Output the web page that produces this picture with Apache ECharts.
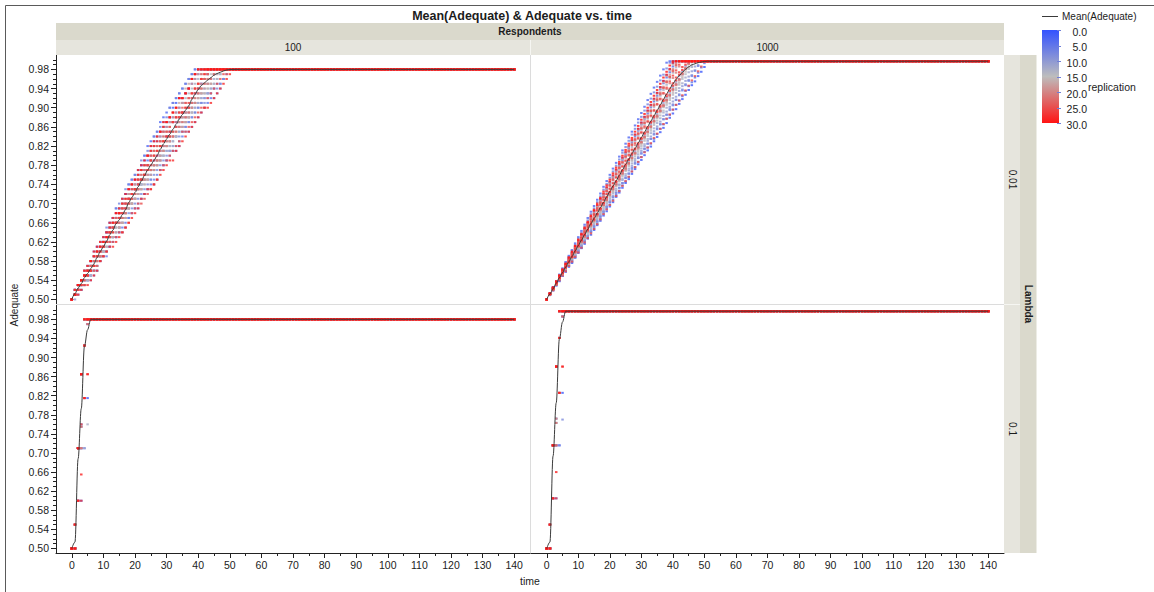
<!DOCTYPE html>
<html>
<head>
<meta charset="utf-8">
<title>Mean(Adequate) & Adequate vs. time</title>
<script src="https://cdn.jsdelivr.net/npm/echarts@6/dist/echarts.min.js"></script>
<style>
  html, body { margin: 0; padding: 0; background: #ffffff; }
  #chart { width: 1154px; height: 592px; }
</style>
</head>
<body>
<div id="chart"></div>
<script>
// ---- data -------------------------------------------------------------
const respondents = ['100', '1000'];
const lambdas = ['0.01', '0.1'];
const lastTime = 140;
const yTickLabels = [0.50, 0.54, 0.58, 0.62, 0.66, 0.70, 0.74, 0.78, 0.82, 0.86, 0.90, 0.94, 0.98];
const xTickLabels = [0, 10, 20, 30, 40, 50, 60, 70, 80, 90, 100, 110, 120, 130, 140];
const replicationTicks = [0, 5, 10, 15, 20, 25, 30];

const startLevel = 0.50;
const plateau100 = 0.98;   // level every replication settles at, 100 respondents
const plateau1000 = 0.997; // same, 1000 respondents

// Lambda 0.01, 100 respondents: one string per replication (1..30),
// each digit is the rise in hundredths from one time step to the next.
const slowSteps100 = [
  '2011211111 1212011211 1121101112 1201101121 1111111111',
  '2102111211 2112112111 1211121111 1211011211 1111111111',
  '2112112111 1212021211 1122111211 1111111111 1111111111',
  '1121211120 2102111211 1211121111 1111121111 1111111111',
  '1011101121 1120111111 0211101211 1101210111 1111011211',
  '1110111021 0211101211 1111201111 2011211111 1110110121',
  '1212021211 2112112111 1211121111 2111111111 1111111111',
  '1101111121 0111211111 1111111111 1210111111 1011101121',
  '1201101121 2011211111 1211011211 1121101112 0111121111',
  '0112110211 1112011211 2110121011 1021111111 1011111121',
  '2011211111 1211011211 1121101112 1112011211 1111111111',
  '1110121111 2101121111 1111201111 0121111111 1101211111',
  '1212011211 1211011211 1211121111 2011211111 1111111111',
  '1201101121 1211011211 1121101112 0112110211 1011011111',
  '2011211111 1121101112 1112011211 1111111111 1201111111',
  '1110121111 1112011211 2011211111 1201101121 1011201111',
  '2102111211 1121211120 2112112111 1111121111 1111111111',
  '1211011211 1011111211 1120121111 1111011211 1110211111',
  '1121211120 1211121111 1212011211 1111121111 1111111111',
  '1112011211 1211011211 1201101121 1121101112 1101211111',
  '1121101112 1211121111 2011211111 1201101121 1111111111',
  '1121101112 1112011211 1211011211 1011111211 1110111111',
  '1211121111 2011211111 2102111211 1110121111 2111111111',
  '1212011211 1121101112 1121211120 1111111111 1011111111',
  '2101110111 1201101121 1011111211 1111201111 1021111101',
  '1211011211 1121211120 1112011211 0112110211 2111111111',
  '1112011211 2102111211 2011211111 1211011211 1111111111',
  '1011011121 1101111111 1211011111 1021111111 1101111111',
  '2112112111 1211121111 2102111211 1112011211 1111111111',
  '1211121111 1212021211 1121211120 1112011211 1111111111'
];

// Lambda 0.01, 1000 respondents: one string per replication (1..30),
// each digit is the rise above a 6-thousandth floor for that time step.
const slowStepFloor1000 = 6;
const slowSteps1000 = [
  '3443534254 4352443534 3534425443 4425343453 3543442534',
  '6766757666 7676657676 6767567767 6766767667 7667676767',
  '7768777687 7787677867 7677876777 7877677877 7677867767',
  '6675675667 7656766576 6766576767 6576677656 6766576676',
  '4353436245 3546234543 4435236354 5324453625 4335424453',
  '4454353545 3545443544 5344536443 4543545344 5445345435',
  '7677686767 6777676867 7678677676 7767676767 7677676776',
  '4534435463 5443546344 4354434565 3445534463 4545344536',
  '5465456455 4565465546 5456546455 4565546546 5456545564',
  '4545364435 5436445354 4564354436 4535446345 4645354536',
  '5565465465 5465565545 6545565456 5565465546 5645565465',
  '5446354536 4547345364 5436455346 3564546435 5446554645',
  '6567565676 5665756566 6575665657 5666756576 5657565676',
  '4565354645 5456345465 4645545346 5456354645 4564536455',
  '5564463556 4655364556 5465546356 6545364655 5465465546',
  '4565464545 5465354654 4656454546 5456465345 4565465546',
  '6676566767 7666757666 6766676756 6767667766 6767667676',
  '5465364556 4657354645 5546365456 4655465356 5465546556',
  '6576665766 6676576566 7656676567 6566756676 6676566576',
  '5465564556 5546465355 6456545465 5465564546 5465564556',
  '6557465565 5765485656 6547565576 5665756465 5756565656',
  '5546455646 4565546455 5456455465 5546455646 4565465546',
  '6576574666 5767566576 6675667565 6756676657 6576657665',
  '6567565676 5676566576 6576657566 5676657656 6576657566',
  '4354435343 4534344543 3445435354 4435344534 4354453445',
  '5657465675 6565756465 5765665756 6565756576 5657565675',
  '5655465565 6556545656 5565656455 5656556565 6556565656',
  '5565465556 5655456565 5456565546 5565556455 5645565465',
  '7667576676 6767667576 7667676567 6767667767 7676676767',
  '7676767667 6767676776 7667676767 6767677676 7676767676'
];

// Lambda 0.1, 100 respondents: values from time 0 until the plateau, per replication.
const fastValues100 = [
  [0.50, 0.50, 0.60, 0.60, 0.71, 0.815],
  [0.50, 0.50, 0.60, 0.71, 0.815, 0.97],
  [0.50, 0.50, 0.71, 0.865],
  [0.50, 0.50, 0.71, 0.71, 0.925, 0.97],
  [0.50, 0.50, 0.71, 0.76, 0.925],
  [0.50, 0.50, 0.71, 0.865],
  [0.50, 0.50, 0.71, 0.755],
  [0.50, 0.55, 0.71, 0.865, 0.925],
  [0.50, 0.50, 0.71, 0.865],
  [0.50, 0.55, 0.71, 0.865],
  [0.50, 0.50, 0.71, 0.865],
  [0.50, 0.50, 0.71, 0.76, 0.925],
  [0.50, 0.50, 0.60, 0.71, 0.71, 0.76],
  [0.50, 0.50, 0.71, 0.755],
  [0.50, 0.50, 0.71, 0.865],
  [0.50, 0.55, 0.71, 0.865],
  [0.50, 0.55, 0.71, 0.865, 0.925],
  [0.50, 0.50, 0.71, 0.865],
  [0.50, 0.50, 0.71, 0.71, 0.925, 0.97],
  [0.50, 0.55, 0.71, 0.865],
  [0.50, 0.50, 0.71, 0.865],
  [0.50, 0.50, 0.60, 0.71, 0.815, 0.97],
  [0.50, 0.50, 0.71, 0.755],
  [0.50, 0.55, 0.71, 0.865, 0.925],
  [0.50, 0.50, 0.71, 0.865],
  [0.50, 0.50, 0.71, 0.76, 0.925],
  [0.50, 0.50, 0.60, 0.60, 0.815, 0.865],
  [0.50, 0.55, 0.71, 0.865, 0.925],
  [0.50, 0.55, 0.60, 0.655, 0.815, 0.865],
  [0.50, 0.50, 0.71, 0.865]
];

// Lambda 0.1, 1000 respondents: values from time 0 until the plateau, per replication.
const fastValues1000 = [
  [0.50, 0.50, 0.605, 0.605, 0.716, 0.826],
  [0.50, 0.50, 0.716, 0.716, 0.941, 0.986],
  [0.50, 0.50, 0.716, 0.881],
  [0.50, 0.50, 0.605, 0.716, 0.826, 0.986],
  [0.50, 0.50, 0.716, 0.881],
  [0.50, 0.50, 0.716, 0.772, 0.941],
  [0.50, 0.55, 0.716, 0.881],
  [0.50, 0.50, 0.605, 0.716, 0.716, 0.77],
  [0.50, 0.50, 0.716, 0.881],
  [0.50, 0.50, 0.716, 0.763],
  [0.50, 0.55, 0.716, 0.881, 0.941],
  [0.50, 0.50, 0.716, 0.881],
  [0.50, 0.50, 0.716, 0.772, 0.941],
  [0.50, 0.55, 0.716, 0.881],
  [0.50, 0.50, 0.716, 0.763],
  [0.50, 0.50, 0.716, 0.881],
  [0.50, 0.55, 0.716, 0.881, 0.941],
  [0.50, 0.50, 0.716, 0.716, 0.941, 0.986],
  [0.50, 0.50, 0.716, 0.881],
  [0.50, 0.55, 0.716, 0.881],
  [0.50, 0.50, 0.716, 0.772, 0.941],
  [0.50, 0.50, 0.716, 0.763],
  [0.50, 0.50, 0.716, 0.881],
  [0.50, 0.50, 0.605, 0.716, 0.826, 0.986],
  [0.50, 0.55, 0.716, 0.881, 0.941],
  [0.50, 0.50, 0.605, 0.605, 0.826, 0.881],
  [0.50, 0.50, 0.716, 0.881],
  [0.50, 0.55, 0.716, 0.881, 0.941],
  [0.50, 0.55, 0.605, 0.66, 0.826, 0.881],
  [0.50, 0.50, 0.716, 0.881]
];

// ---- series building --------------------------------------------------
const round4 = v => Math.round(v * 10000) / 10000;

// one value per time step 0..lastTime for each replication, from step strings
function fromSteps(stepStrings, unit, floor, plateau) {
  return stepStrings.map(s => {
    const steps = s.replace(/\s+/g, '');
    const values = [startLevel];
    let v = startLevel;
    for (let t = 1; t <= lastTime; t++) {
      v = t <= steps.length ? Math.min(plateau, v + (floor + Number(steps[t - 1])) * unit) : plateau;
      values.push(round4(v));
    }
    return values;
  });
}

// one value per time step 0..lastTime for each replication, from listed values
function fromValues(rows, plateau) {
  return rows.map(row => {
    const values = [];
    for (let t = 0; t <= lastTime; t++) values.push(t < row.length ? row[t] : plateau);
    return values;
  });
}

const panels = [
  fromSteps(slowSteps100, 0.01, 0, plateau100),
  fromSteps(slowSteps1000, 0.001, slowStepFloor1000, plateau1000),
  fromValues(fastValues100, plateau100),
  fromValues(fastValues1000, plateau1000)
];

function scatterPoints(reps) {
  const pts = [];
  reps.forEach((values, i) => values.forEach((v, t) => pts.push([t, v, i + 1])));
  return pts;
}

function meanLine(reps) {
  return reps[0].map((_, t) => [t, round4(reps.reduce((s, r) => s + r[t], 0) / reps.length)]);
}

// ---- look ---------------------------------------------------------------
const fontFamily = "'Liberation Sans', Arial, Helvetica, sans-serif";
const ink = '#1c1c1c';
const axisInk = '#222222';
const bandDark = '#dad9cc';
const bandLight = '#e6e5dd';
const panelRule = '#dcdcdc';
const replicationColors = ['#3352ff', '#bdbdbd', '#ff1414'];

const grids = [
  { left: 56, top: 55, width: 474, height: 249 },
  { left: 531, top: 55, width: 473, height: 249 },
  { left: 56, top: 305, width: 474, height: 248 },
  { left: 531, top: 305, width: 473, height: 248 }
];
const yMin = 0.4905, yMax = 1.01;
const xMin = -5, xMax = 145;

const yMinorTicks = [];
for (let k = 49; k <= 100; k++) yMinorTicks.push(k / 100);
const xMinorTicks = [];
for (let v = 5; v <= 135; v += 10) xMinorTicks.push(v);

const xAxes = [], yAxes = [];
grids.forEach((g, i) => {
  const bottomRow = i >= 2, leftCol = i % 2 === 0;
  xAxes.push({
    gridIndex: i, type: 'value', min: xMin, max: xMax, position: 'bottom', show: bottomRow,
    axisLine: { show: true, onZero: false, lineStyle: { color: axisInk, width: 1 } },
    axisTick: { show: true, customValues: xTickLabels, length: 5, lineStyle: { color: axisInk } },
    axisLabel: { show: true, customValues: xTickLabels, margin: 6, color: ink, fontSize: 10.5, fontFamily,
      formatter: v => String(v) },
    splitLine: { show: false }
  });
  xAxes.push({
    gridIndex: i, type: 'value', min: xMin, max: xMax, position: 'bottom', show: bottomRow,
    axisLine: { show: false, onZero: false },
    axisTick: { show: true, customValues: xMinorTicks, length: 3, lineStyle: { color: axisInk } },
    axisLabel: { show: false },
    splitLine: { show: false }
  });
  yAxes.push({
    gridIndex: i, type: 'value', min: yMin, max: yMax, position: 'left', show: leftCol,
    axisLine: { show: true, onZero: false, lineStyle: { color: axisInk, width: 1 } },
    axisTick: { show: true, customValues: yTickLabels, length: 5, lineStyle: { color: axisInk } },
    axisLabel: { show: true, customValues: yTickLabels, margin: 7, color: ink, fontSize: 10.5, fontFamily,
      formatter: v => v.toFixed(2) },
    splitLine: { show: false }
  });
  yAxes.push({
    gridIndex: i, type: 'value', min: yMin, max: yMax, position: 'left', show: leftCol,
    axisLine: { show: false, onZero: false },
    axisTick: { show: true, customValues: yMinorTicks, length: 3, lineStyle: { color: axisInk } },
    axisLabel: { show: false },
    splitLine: { show: false }
  });
});

const scatterSeries = panels.map((reps, i) => ({
  type: 'scatter', xAxisIndex: 2 * i, yAxisIndex: 2 * i,
  data: scatterPoints(reps),
  symbol: 'rect', symbolSize: [2.5, 2],
  progressive: 0, silent: true, z: 2,
  emphasis: { disabled: true }
}));

const meanSeries = panels.map((reps, i) => ({
  type: 'line', name: 'Mean(Adequate)', xAxisIndex: 2 * i, yAxisIndex: 2 * i,
  data: meanLine(reps),
  showSymbol: false, symbol: 'none', smooth: 0.35, smoothMonotone: 'x',
  lineStyle: { color: '#3a3a3a', width: 1 },
  silent: true, z: 3
}));

// ---- decorations ----------------------------------------------------------
function label(text, x, y, o = {}) {
  const align = o.align || 'center';
  return {
    type: 'text', x, y, rotation: o.rotation || 0, silent: true, z: 20,
    style: {
      text, fill: ink,
      font: `${o.weight || 'normal'} ${o.size || 10}px ${fontFamily}`,
      align, verticalAlign: 'middle', textAlign: align, textVerticalAlign: 'middle'
    }
  };
}
function box(x, y, w, h, fill) {
  return { type: 'rect', silent: true, z: 1, shape: { x, y, width: w, height: h }, style: { fill } };
}
function rule(x1, y1, x2, y2, stroke, z) {
  return { type: 'line', silent: true, z: z || 21, shape: { x1, y1, x2, y2 }, style: { stroke, lineWidth: 1 } };
}

const barTop = 30, barHeight = 93, barLeft = 1042, barWidth = 17;
const colourBarTicks = [];
replicationTicks.forEach(v => {
  const y = barTop + (v / 30) * barHeight;
  colourBarTicks.push(rule(barLeft + barWidth - 2, Math.round(y) + 0.5, barLeft + barWidth + 2, Math.round(y) + 0.5, '#6f7fd8'));
  colourBarTicks.push(label(v.toFixed(1), 1087, y + 1.5, { align: 'right', size: 10.5 }));
});

const graphic = [
  { type: 'rect', silent: true, z: 30, shape: { x: 5.5, y: 5.5, width: 1400, height: 900 },
    style: { fill: 'none', stroke: '#5a5a5a', lineWidth: 1 } },
  label('Mean(Adequate) & Adequate vs. time', 522, 16, { weight: 'bold', size: 12.5 }),
  // panel dividers
  rule(56, 304.5, 1004, 304.5, panelRule, 0),
  rule(530.5, 55, 530.5, 553, panelRule, 0),
  // column header
  box(56, 23, 948, 17, bandDark),
  box(56, 40, 948, 15, bandLight),
  rule(530.5, 40, 530.5, 55, '#f6f6f2'),
  label('Respondents', 530, 31.5, { weight: 'bold', size: 10 }),
  label(respondents[0], 293, 47.5, { size: 10 }),
  label(respondents[1], 767.5, 47.5, { size: 10 }),
  // row strip
  box(1004, 55, 16, 498, bandLight),
  box(1020, 55, 16.5, 498, bandDark),
  rule(1004, 304.5, 1020, 304.5, '#f6f6f2'),
  label(lambdas[0], 1012, 179.5, { rotation: -Math.PI / 2, size: 10 }),
  label(lambdas[1], 1012, 429, { rotation: -Math.PI / 2, size: 10 }),
  label('Lambda', 1028.5, 304, { rotation: -Math.PI / 2, weight: 'bold', size: 10 }),
  // axis titles
  label('Adequate', 14, 305, { rotation: Math.PI / 2, size: 10 }),
  label('time', 530, 581, { size: 10.5 }),
  // legend
  rule(1042, 16.5, 1058, 16.5, '#3a3a3a'),
  label('Mean(Adequate)', 1062, 16.5, { align: 'left', size: 10 }),
  { type: 'rect', silent: true, z: 20, shape: { x: barLeft, y: barTop, width: barWidth, height: barHeight },
    style: { fill: { type: 'linear', x: 0, y: 0, x2: 0, y2: 1, colorStops: [
      { offset: 0, color: replicationColors[0] },
      { offset: 0.5, color: replicationColors[1] },
      { offset: 1, color: replicationColors[2] } ] } } },
  ...colourBarTicks,
  label('replication', 1088, 86.5, { align: 'left', size: 10.5 })
];

const chart = echarts.init(document.getElementById('chart'), null, { renderer: 'svg', width: 1154, height: 592 });
chart.setOption({
  animation: false,
  backgroundColor: '#ffffff',
  grid: grids.map(g => Object.assign({ show: false }, g)),
  xAxis: xAxes,
  yAxis: yAxes,
  visualMap: {
    type: 'continuous', show: false, min: 0, max: 30, dimension: 2,
    seriesIndex: [0, 1, 2, 3],
    inRange: { color: replicationColors }
  },
  series: [...scatterSeries, ...meanSeries],
  graphic
});
</script>
</body>
</html>
